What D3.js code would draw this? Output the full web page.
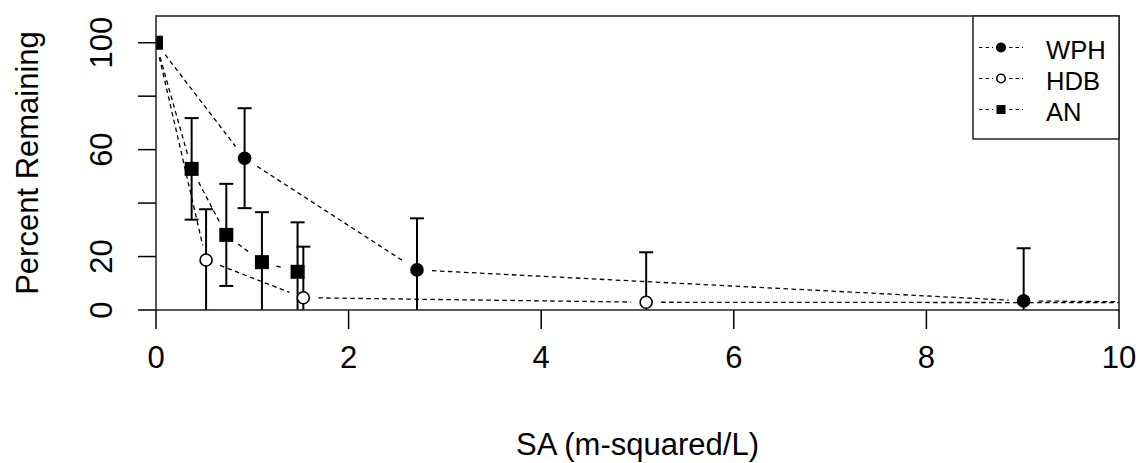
<!DOCTYPE html>
<html>
<head>
<meta charset="utf-8">
<script src="https://cdn.jsdelivr.net/npm/d3@7"></script>
<style>
  body { margin: 0; background: #fff; }
  text { font-family: "Liberation Sans", Arial, sans-serif; fill: #000; }
</style>
</head>
<body>
<script>
let w = 1139;
let h = 463;

// data (SA in m-squared/L, percent remaining, error bar half width)
// last WPH / HDB points sit past x = 10, only their lines show up at the right edge
var wphSA = [0, 0.92, 2.71, 9.01, 14];
var wphPct = [100, 56.8, 15.0, 3.4, 1.9];
var wphErr = [0, 18.7, 19.3, 19.7, 0];

var hdbSA = [0, 0.52, 1.53, 5.09, 12];
var hdbPct = [100, 18.7, 4.6, 2.9, 2.7];
var hdbErr = [0, 19.0, 19.1, 18.7, 0];

var anSA = [0, 0.37, 0.73, 1.10, 1.47];
var anPct = [100, 52.8, 28.1, 17.9, 14.3];
var anErr = [0, 19.0, 19.1, 18.7, 18.5];

var seriesNames = ["WPH", "HDB", "AN"];
var xTicks = [0, 2, 4, 6, 8, 10];
var yTicks = [0, 20, 40, 60, 80, 100];
var yTickLabels = ["0", "20", "", "60", "", "100"];

// plot box edges (window.top is taken, so no plain "top")
var boxL = 156, boxR = 1119, boxT = 16, boxB = 310;
var fontSize = 31;

var x = d3.scaleLinear().domain([0, 10]).range([boxL, boxR]);
var y = d3.scaleLinear().domain([0, 110]).range([boxB, boxT]);

var svg = d3.select("body").append("svg")
    .attr("width", w)
    .attr("height", h);

svg.append("defs").append("clipPath").attr("id", "plotclip")
    .append("rect")
    .attr("x", boxL).attr("y", boxT)
    .attr("width", boxR - boxL).attr("height", boxB - boxT);

var series = [
    { name: "WPH", sa: wphSA, pct: wphPct, err: wphErr, shape: "dot" },
    { name: "HDB", sa: hdbSA, pct: hdbPct, err: hdbErr, shape: "ring" },
    { name: "AN", sa: anSA, pct: anPct, err: anErr, shape: "square" }
];

var plot = svg.append("g").attr("clip-path", "url(#plotclip)");

// R type="b": dashed segments that stop short of each point
var gap = 15;
series.forEach((s) => {
    var pts = s.sa.map((d, i) => [x(d), y(s.pct[i])]);
    var segs = [];
    for (let i = 0; i < pts.length - 1; i++) {
        let [x0, y0] = pts[i];
        let [x1, y1] = pts[i + 1];
        let len = Math.hypot(x1 - x0, y1 - y0);
        if (len <= 2 * gap) continue;
        let ux = (x1 - x0) / len, uy = (y1 - y0) / len;
        segs.push([x0 + ux * gap, y0 + uy * gap, x1 - ux * gap, y1 - uy * gap]);
    }
    plot.selectAll(null).data(segs).enter().append("line")
        .attr("x1", (d) => d[0]).attr("y1", (d) => d[1])
        .attr("x2", (d) => d[2]).attr("y2", (d) => d[3])
        .attr("stroke", "#000")
        .attr("stroke-width", 1.3)
        .attr("stroke-dasharray", "4.5,3.5");
});

// error bars
series.forEach((s) => {
    var bars = s.sa.map((d, i) => ({ sa: d, pct: s.pct[i], err: s.err[i] }))
        .filter((d) => d.err > 0);
    var g = plot.selectAll(null).data(bars).enter().append("g");
    g.append("line")
        .attr("x1", (d) => x(d.sa)).attr("x2", (d) => x(d.sa))
        .attr("y1", (d) => y(d.pct - d.err)).attr("y2", (d) => y(d.pct + d.err))
        .attr("stroke", "#000").attr("stroke-width", 2);
    g.append("line")
        .attr("x1", (d) => x(d.sa) - 7).attr("x2", (d) => x(d.sa) + 7)
        .attr("y1", (d) => y(d.pct + d.err)).attr("y2", (d) => y(d.pct + d.err))
        .attr("stroke", "#000").attr("stroke-width", 2);
    g.append("line")
        .attr("x1", (d) => x(d.sa) - 7).attr("x2", (d) => x(d.sa) + 7)
        .attr("y1", (d) => y(d.pct - d.err)).attr("y2", (d) => y(d.pct - d.err))
        .attr("stroke", "#000").attr("stroke-width", 2);
});

var drawSymbol = (sel, shape, size) => {
    if (shape === "square") {
        sel.append("rect")
            .attr("x", -size).attr("y", -size)
            .attr("width", 2 * size).attr("height", 2 * size)
            .attr("fill", "#000");
    } else if (shape === "dot") {
        sel.append("circle").attr("r", size).attr("fill", "#000");
    } else {
        sel.append("circle").attr("r", size - 0.8)
            .attr("fill", "#fff").attr("stroke", "#000").attr("stroke-width", 1.6);
    }
};

// points
series.forEach((s) => {
    var pts = plot.selectAll(null).data(s.sa.map((d, i) => [d, s.pct[i]])).enter().append("g")
        .attr("transform", (d) => `translate(${x(d[0])},${y(d[1])})`);
    drawSymbol(pts, s.shape, s.shape === "square" ? 7 : 6.8);
});

// box
svg.append("rect")
    .attr("x", boxL).attr("y", boxT)
    .attr("width", boxR - boxL).attr("height", boxB - boxT)
    .attr("fill", "none").attr("stroke", "#222").attr("stroke-width", 1.5);

// x axis
svg.selectAll(".xt").data(xTicks).enter().append("line")
    .attr("x1", (d) => x(d)).attr("x2", (d) => x(d))
    .attr("y1", boxB).attr("y2", boxB + 19)
    .attr("stroke", "#000").attr("stroke-width", 1.5);
svg.selectAll(".xl").data(xTicks).enter().append("text")
    .attr("x", (d) => x(d)).attr("y", boxB + 58)
    .attr("text-anchor", "middle")
    .attr("font-size", fontSize)
    .text((d) => d);

// y axis
svg.selectAll(".yt").data(yTicks).enter().append("line")
    .attr("x1", boxL - 18).attr("x2", boxL)
    .attr("y1", (d) => y(d)).attr("y2", (d) => y(d))
    .attr("stroke", "#000").attr("stroke-width", 1.5);
svg.selectAll(".yl").data(yTicks).enter().append("text")
    .attr("transform", (d) => `translate(112,${y(d)}) rotate(-90)`)
    .attr("text-anchor", "middle")
    .attr("font-size", fontSize)
    .text((d, i) => yTickLabels[i]);

// axis titles
svg.append("text")
    .attr("x", (boxL + boxR) / 2).attr("y", 455)
    .attr("text-anchor", "middle")
    .attr("font-size", fontSize)
    .text("SA (m-squared/L)");
svg.append("text")
    .attr("transform", `translate(38,${(boxT + boxB) / 2}) rotate(-90)`)
    .attr("text-anchor", "middle")
    .attr("font-size", fontSize)
    .text("Percent Remaining");

// legend
var lg = svg.append("g");
lg.append("rect")
    .attr("x", 973).attr("y", boxT)
    .attr("width", boxR - 973).attr("height", 139 - boxT)
    .attr("fill", "#fff").attr("stroke", "#222").attr("stroke-width", 1.5);
var rows = lg.selectAll(".row").data(series).enter().append("g")
    .attr("transform", (d, i) => `translate(1001,${47.5 + i * 31})`);
rows.append("line").attr("x1", -22).attr("x2", -8).attr("y1", 0).attr("y2", 0)
    .attr("stroke", "#000").attr("stroke-width", 1.2).attr("stroke-dasharray", "3.5,3");
rows.append("line").attr("x1", 8).attr("x2", 22).attr("y1", 0).attr("y2", 0)
    .attr("stroke", "#000").attr("stroke-width", 1.2).attr("stroke-dasharray", "3.5,3");
rows.each(function (d) {
    drawSymbol(d3.select(this), d.shape, d.shape === "square" ? 4.5 : 5);
});
rows.append("text")
    .attr("x", 45).attr("y", 11)
    .attr("font-size", 25.6)
    .text((d, i) => seriesNames[i]);
</script>
</body>
</html>
